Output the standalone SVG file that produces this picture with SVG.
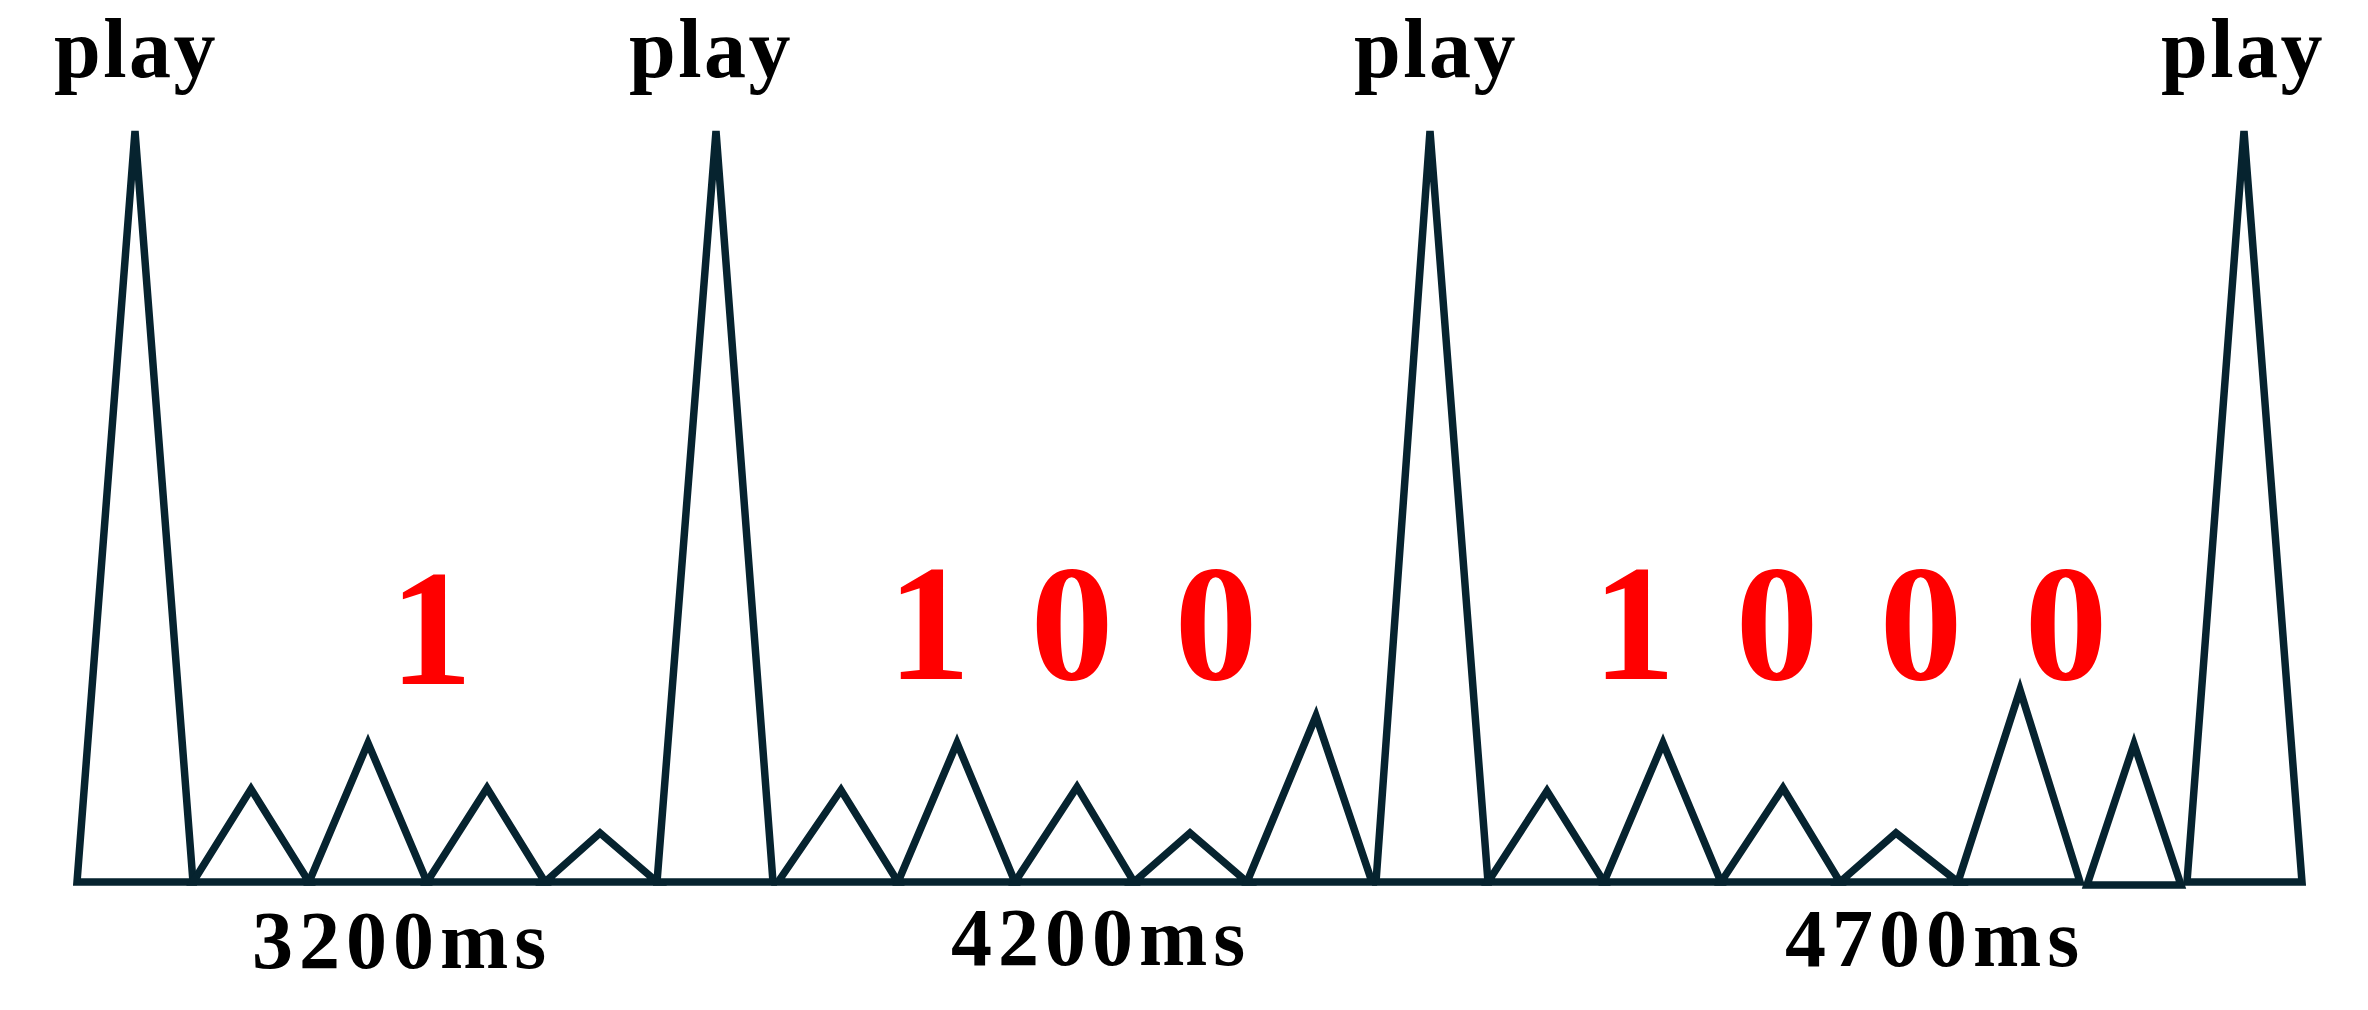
<svg xmlns="http://www.w3.org/2000/svg" width="2368" height="1010" viewBox="0 0 2368 1010">
  <style>
    .wave { fill: none; stroke: #06232f; stroke-width: 7.5; stroke-linejoin: miter; }
    .play { font-family: "Liberation Serif", "Times New Roman", serif; font-weight: bold; font-size: 84px; fill: #000; text-anchor: middle; letter-spacing: 2.5px; }
    .dur { font-family: "Liberation Serif", "Times New Roman", serif; font-weight: bold; font-size: 82px; fill: #000; text-anchor: middle; letter-spacing: 6px; }
    .code { font-family: "Liberation Serif", "Times New Roman", serif; font-weight: bold; font-size: 166px; fill: #ff0000; text-anchor: middle; }
  </style>
  <rect width="2368" height="1010" fill="#ffffff"/>

  <g id="connectors">
    <!-- spikes (play markers) -->
    <polygon id="spike1" class="wave" points="77,882 135,131 193,882"/>
    <polygon id="spike2" class="wave" points="657,882 716,131 773,882"/>
    <polygon id="spike3" class="wave" points="1376,882 1430,131 1488,882"/>
    <polygon id="spike4" class="wave" points="2187,882 2244,131 2302,882"/>
    <!-- section 1 -->
    <polygon class="wave" points="193,882 251,789 309,882"/>
    <polygon class="wave" points="309,882 368,743 427,882"/>
    <polygon class="wave" points="427,882 487,788 545,882"/>
    <polygon class="wave" points="545,882 600,833 657,882"/>
    <!-- section 2 -->
    <polygon class="wave" points="778,882 841,790 898,882"/>
    <polygon class="wave" points="898,882 957,743 1015,882"/>
    <polygon class="wave" points="1015,882 1077,787 1134,882"/>
    <polygon class="wave" points="1134,882 1190,833 1247,882"/>
    <polygon class="wave" points="1247,882 1316,716 1372,882"/>
    <!-- section 3 -->
    <polygon class="wave" points="1488,882 1547,791 1604,882"/>
    <polygon class="wave" points="1604,882 1663,743 1721,882"/>
    <polygon class="wave" points="1721,882 1783,788 1840,882"/>
    <polygon class="wave" points="1840,882 1896,833 1958,882"/>
    <polygon class="wave" points="1958,882 2020,690 2080,882"/>
    <polygon class="wave" points="2087,885 2134,744 2181,885"/>
  </g>

  <g id="play1"><text class="play" x="136" y="77">play</text></g>
  <g id="play2"><text class="play" x="711" y="77">play</text></g>
  <g id="play3"><text class="play" x="1436" y="77">play</text></g>
  <g id="play4"><text class="play" x="2243" y="77">play</text></g>

  <g id="code1"><text class="code" x="431" y="684">1</text></g>
  <g id="code100"><text class="code" x="929 1072 1216" y="679">100</text></g>
  <g id="code1000"><text class="code" x="1634 1777 1921 2066" y="679">1000</text></g>

  <g id="dur1"><text class="dur" x="402" y="968">3200ms</text></g>
  <g id="dur2"><text class="dur" x="1101" y="965">4200ms</text></g>
  <g id="dur3"><text class="dur" x="1935" y="966">4700ms</text></g>
</svg>
